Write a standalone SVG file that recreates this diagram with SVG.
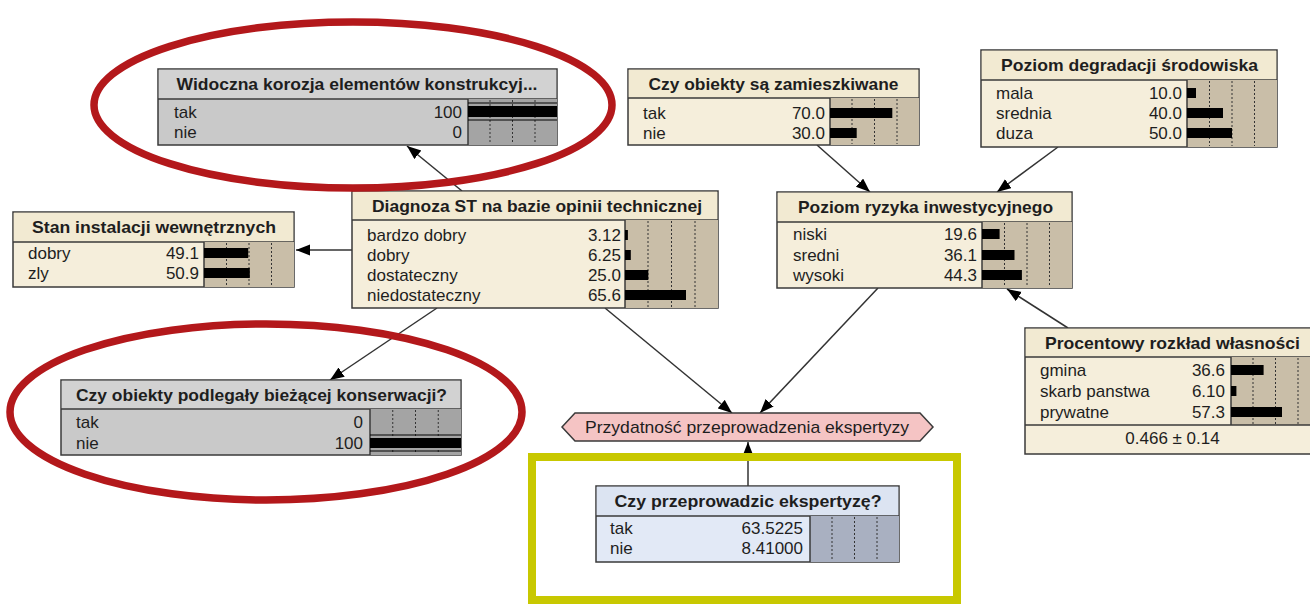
<svg xmlns="http://www.w3.org/2000/svg" width="1310" height="604" viewBox="0 0 1310 604">
<style>
text{font-family:"Liberation Sans",Arial,sans-serif;fill:#1e1e1e}
.t{font-size:17px;font-weight:bold;text-anchor:middle}
.r{font-size:17px}
.v{font-size:17px;text-anchor:end}
.box{stroke:#3a3a3a;stroke-width:1.5}
.sep{stroke:#3a3a3a;stroke-width:1.5}
.beige{fill:#f5eedb}
.beigeT{fill:#f2ead2}
.tan{fill:#c9bea8}
.grey{fill:#c9c9c9}
.greyT{fill:#d2d2d2}
.greyB{fill:#a4a4a4}
.blue{fill:#e2e9f6}
.blueT{fill:#dce4f2}
.blueB{fill:#a9b0c1}
.dot{stroke:#333;stroke-width:1;stroke-dasharray:2,2}
.bar{fill:#000}
.thin{stroke:#000;stroke-width:1.2}
.edge{stroke:#333;stroke-width:1.5;fill:none;marker-end:url(#ah)}
.ring{fill:none;stroke:#b3181b;stroke-width:7.5}
</style>
<defs>
<marker id="ah" markerUnits="userSpaceOnUse" markerWidth="15" markerHeight="12" refX="14" refY="5.5" orient="auto">
<path d="M0,0 L14,5.5 L0,11 z" fill="#000"/>
</marker>
</defs>
<rect width="1310" height="604" fill="#fff"/>

<g id="connectors">
<line class="edge" x1="352" y1="250" x2="296" y2="250"/>
<line class="edge" x1="462" y1="191" x2="407" y2="146"/>
<line class="edge" x1="437" y1="308" x2="330" y2="380"/>
<line class="edge" x1="605" y1="308" x2="732" y2="413"/>
<line class="edge" x1="817" y1="145" x2="870" y2="192"/>
<line class="edge" x1="1058" y1="147" x2="997" y2="192"/>
<line class="edge" x1="878" y1="288" x2="760" y2="413"/>
<line class="edge" x1="1068" y1="328" x2="1007" y2="289"/>
<line class="edge" x1="748" y1="486" x2="748" y2="442"/>
</g>

<g id="n-widoczna">
<rect class="box grey" x="158" y="69" width="399" height="76"/>
<rect class="greyT" x="158.75" y="69.75" width="397.5" height="29.25"/>
<line class="sep" x1="158" y1="99" x2="557" y2="99"/>
<rect class="greyB" x="468" y="99" width="89" height="46"/>
<line class="sep" x1="468" y1="99" x2="468" y2="145"/>
<line class="dot" x1="490" y1="100" x2="490" y2="144"/>
<line class="dot" x1="512.5" y1="100" x2="512.5" y2="144"/>
<line class="dot" x1="535" y1="100" x2="535" y2="144"/>
<line class="thin" x1="468" y1="103" x2="557" y2="103"/>
<rect class="bar" x="468" y="106" width="89" height="11"/>
<line class="thin" x1="468" y1="120" x2="557" y2="120"/>
<text class="t" x="357" y="90" textLength="361" lengthAdjust="spacingAndGlyphs">Widoczna korozja elementów konstrukcyj...</text>
<text class="r" x="174" y="118">tak</text><text class="v" x="462" y="118">100</text>
<text class="r" x="174" y="138">nie</text><text class="v" x="462" y="138">0</text>
</g>

<g id="n-stan">
<rect class="box beige" x="13" y="212" width="281" height="75"/>
<rect class="beigeT" x="13.75" y="212.75" width="279.5" height="29.25"/>
<line class="sep" x1="13" y1="242" x2="294" y2="242"/>
<rect class="tan" x="204" y="242" width="90" height="45"/>
<line class="sep" x1="204" y1="242" x2="204" y2="287"/>
<line class="dot" x1="226.5" y1="243" x2="226.5" y2="286"/>
<line class="dot" x1="249" y1="243" x2="249" y2="286"/>
<line class="dot" x1="271.5" y1="243" x2="271.5" y2="286"/>
<rect class="bar" x="204" y="248" width="44.2" height="10"/>
<rect class="bar" x="204" y="268" width="45.8" height="10"/>
<text class="t" x="154" y="233" textLength="244" lengthAdjust="spacingAndGlyphs">Stan instalacji wewnętrznych</text>
<text class="r" x="28" y="259">dobry</text><text class="v" x="199" y="259">49.1</text>
<text class="r" x="28" y="279">zly</text><text class="v" x="199" y="279">50.9</text>
</g>

<g id="n-diagnoza">
<rect class="box beige" x="352" y="191" width="366" height="117"/>
<rect class="beigeT" x="352.75" y="191.75" width="364.5" height="28.25"/>
<line class="sep" x1="352" y1="220" x2="718" y2="220"/>
<rect class="tan" x="625" y="220" width="93" height="88"/>
<line class="sep" x1="625" y1="220" x2="625" y2="308"/>
<line class="dot" x1="648" y1="221" x2="648" y2="307"/>
<line class="dot" x1="671.5" y1="221" x2="671.5" y2="307"/>
<line class="dot" x1="695" y1="221" x2="695" y2="307"/>
<rect class="bar" x="625" y="230" width="2.9" height="10"/>
<rect class="bar" x="625" y="250" width="5.8" height="10"/>
<rect class="bar" x="625" y="270" width="23.3" height="10"/>
<rect class="bar" x="625" y="290" width="61" height="10"/>
<text class="t" x="537" y="211.5" textLength="330" lengthAdjust="spacingAndGlyphs">Diagnoza ST na bazie opinii technicznej</text>
<text class="r" x="367" y="241">bardzo dobry</text><text class="v" x="621" y="241">3.12</text>
<text class="r" x="367" y="261">dobry</text><text class="v" x="621" y="261">6.25</text>
<text class="r" x="367" y="281">dostateczny</text><text class="v" x="621" y="281">25.0</text>
<text class="r" x="367" y="301">niedostateczny</text><text class="v" x="621" y="301">65.6</text>
</g>

<g id="n-zamieszkiwane">
<rect class="box beige" x="628" y="69" width="291" height="76"/>
<rect class="beigeT" x="628.75" y="69.75" width="289.5" height="28.25"/>
<line class="sep" x1="628" y1="98" x2="919" y2="98"/>
<rect class="tan" x="830" y="98" width="89" height="47"/>
<line class="sep" x1="830" y1="98" x2="830" y2="145"/>
<line class="dot" x1="852" y1="99" x2="852" y2="144"/>
<line class="dot" x1="874.5" y1="99" x2="874.5" y2="144"/>
<line class="dot" x1="897" y1="99" x2="897" y2="144"/>
<rect class="bar" x="830" y="108" width="62.3" height="10"/>
<rect class="bar" x="830" y="128" width="26.7" height="10"/>
<text class="t" x="773.5" y="89.5" textLength="250" lengthAdjust="spacingAndGlyphs">Czy obiekty są zamieszkiwane</text>
<text class="r" x="643" y="119">tak</text><text class="v" x="825" y="119">70.0</text>
<text class="r" x="643" y="139">nie</text><text class="v" x="825" y="139">30.0</text>
</g>

<g id="n-degradacja">
<rect class="box beige" x="981" y="50" width="296" height="97"/>
<rect class="beigeT" x="981.75" y="50.75" width="294.5" height="29.25"/>
<line class="sep" x1="981" y1="80" x2="1277" y2="80"/>
<rect class="tan" x="1187" y="80" width="90" height="67"/>
<line class="sep" x1="1187" y1="80" x2="1187" y2="147"/>
<line class="dot" x1="1209.5" y1="81" x2="1209.5" y2="146"/>
<line class="dot" x1="1232" y1="81" x2="1232" y2="146"/>
<line class="dot" x1="1254.5" y1="81" x2="1254.5" y2="146"/>
<rect class="bar" x="1187" y="88" width="9" height="10"/>
<rect class="bar" x="1187" y="108" width="36" height="10"/>
<rect class="bar" x="1187" y="128" width="45" height="10"/>
<text class="t" x="1129.5" y="71" textLength="257" lengthAdjust="spacingAndGlyphs">Poziom degradacji środowiska</text>
<text class="r" x="996" y="99">mala</text><text class="v" x="1182" y="99">10.0</text>
<text class="r" x="996" y="119">srednia</text><text class="v" x="1182" y="119">40.0</text>
<text class="r" x="996" y="139">duza</text><text class="v" x="1182" y="139">50.0</text>
</g>

<g id="n-ryzyko">
<rect class="box beige" x="777" y="192" width="295" height="96"/>
<rect class="beigeT" x="777.75" y="192.75" width="293.5" height="29.25"/>
<line class="sep" x1="777" y1="222" x2="1072" y2="222"/>
<rect class="tan" x="982" y="222" width="90" height="66"/>
<line class="sep" x1="982" y1="222" x2="982" y2="288"/>
<line class="dot" x1="1004.5" y1="223" x2="1004.5" y2="287"/>
<line class="dot" x1="1027" y1="223" x2="1027" y2="287"/>
<line class="dot" x1="1049.5" y1="223" x2="1049.5" y2="287"/>
<rect class="bar" x="982" y="229" width="17.6" height="10"/>
<rect class="bar" x="982" y="250" width="32.5" height="10"/>
<rect class="bar" x="982" y="270" width="39.9" height="10"/>
<text class="t" x="925.5" y="213" textLength="255" lengthAdjust="spacingAndGlyphs">Poziom ryzyka inwestycyjnego</text>
<text class="r" x="793" y="240">niski</text><text class="v" x="977" y="240">19.6</text>
<text class="r" x="793" y="261">sredni</text><text class="v" x="977" y="261">36.1</text>
<text class="r" x="793" y="281">wysoki</text><text class="v" x="977" y="281">44.3</text>
</g>

<g id="n-konserwacja">
<rect class="box grey" x="61" y="380" width="400" height="75"/>
<rect class="greyT" x="61.75" y="380.75" width="398.5" height="28.25"/>
<line class="sep" x1="61" y1="409" x2="461" y2="409"/>
<rect class="greyB" x="370" y="409" width="91" height="46"/>
<line class="sep" x1="370" y1="409" x2="370" y2="455"/>
<line class="dot" x1="392.75" y1="410" x2="392.75" y2="454"/>
<line class="dot" x1="415.5" y1="410" x2="415.5" y2="454"/>
<line class="dot" x1="438.25" y1="410" x2="438.25" y2="454"/>
<line class="thin" x1="370" y1="435" x2="461" y2="435"/>
<rect class="bar" x="370" y="438" width="91" height="10"/>
<line class="thin" x1="370" y1="451" x2="461" y2="451"/>
<text class="t" x="261.5" y="400.5" textLength="371" lengthAdjust="spacingAndGlyphs">Czy obiekty podlegały bieżącej konserwacji?</text>
<text class="r" x="76" y="428">tak</text><text class="v" x="363" y="428">0</text>
<text class="r" x="76" y="449">nie</text><text class="v" x="363" y="449">100</text>
</g>

<g id="n-przydatnosc">
<polygon points="562,427 575,413 920,413 933,427 920,441 575,441" fill="#f5c4c4" stroke="#3a3a3a" stroke-width="1.5"/>
<text class="r" x="747" y="433" text-anchor="middle" textLength="324" lengthAdjust="spacingAndGlyphs">Przydatność przeprowadzenia ekspertyzy</text>
</g>

<g id="n-ekspertyza">
<rect class="box blue" x="596" y="486" width="303" height="76"/>
<rect class="blueT" x="596.75" y="486.75" width="301.5" height="29.25"/>
<line class="sep" x1="596" y1="516" x2="899" y2="516"/>
<rect class="blueB" x="810" y="516" width="89" height="46"/>
<line class="sep" x1="810" y1="516" x2="810" y2="562"/>
<line class="dot" x1="832" y1="517" x2="832" y2="561"/>
<line class="dot" x1="854.5" y1="517" x2="854.5" y2="561"/>
<line class="dot" x1="877" y1="517" x2="877" y2="561"/>
<text class="t" x="748" y="507" textLength="267" lengthAdjust="spacingAndGlyphs">Czy przeprowadzic ekspertyzę?</text>
<text class="r" x="610" y="534">tak</text><text class="v" x="803" y="534">63.5225</text>
<text class="r" x="610" y="554">nie</text><text class="v" x="803" y="554">8.41000</text>
</g>

<g id="n-wlasnosc">
<rect class="box beige" x="1025" y="328" width="300" height="126"/>
<rect class="beigeT" x="1025.75" y="328.75" width="298.5" height="28.25"/>
<line class="sep" x1="1025" y1="357" x2="1325" y2="357"/>
<rect class="tan" x="1231" y="357" width="89" height="68"/>
<line class="sep" x1="1231" y1="357" x2="1231" y2="425"/>
<line class="dot" x1="1253" y1="358" x2="1253" y2="424"/>
<line class="dot" x1="1275.5" y1="358" x2="1275.5" y2="424"/>
<line class="dot" x1="1298" y1="358" x2="1298" y2="424"/>
<rect class="bar" x="1231" y="365" width="32.6" height="10"/>
<rect class="bar" x="1231" y="386" width="5.4" height="10"/>
<rect class="bar" x="1231" y="407" width="51" height="10"/>
<line class="sep" x1="1025" y1="425" x2="1325" y2="425"/>
<text class="t" x="1172.5" y="348.5" textLength="255" lengthAdjust="spacingAndGlyphs">Procentowy rozkład własności</text>
<text class="r" x="1040" y="376">gmina</text><text class="v" x="1225" y="376">36.6</text>
<text class="r" x="1040" y="397">skarb panstwa</text><text class="v" x="1225" y="397">6.10</text>
<text class="r" x="1040" y="418">prywatne</text><text class="v" x="1225" y="418">57.3</text>
<text class="r" x="1172.5" y="444" text-anchor="middle">0.466 ± 0.14</text>
</g>

<g id="highlights">
<ellipse class="ring" cx="353" cy="105" rx="259" ry="83"/>
<ellipse class="ring" cx="266" cy="412" rx="256" ry="88"/>
<rect x="532" y="457" width="425" height="143" fill="none" stroke="#c8c800" stroke-width="8"/>
</g>
</svg>
